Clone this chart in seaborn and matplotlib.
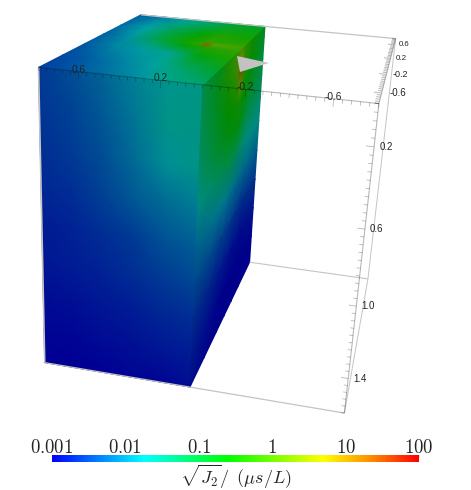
import numpy as np
import seaborn as sns
import matplotlib.pyplot as plt
from matplotlib.colors import LinearSegmentedColormap

sns.set_theme(style="white")
plt.rcParams['font.family'] = ['Liberation Sans', 'DejaVu Sans']
plt.rcParams['mathtext.fontset'] = 'cm'

# camera calibration: model point (x, y, z) -> where it lands in the picture
anchor_model = [(.8, -.8, 0), (-.8, -.8, 0), (-.8, .8, 0), (.8, .8, 0), (.8, -.8, 1.6), (-.8, -.8, 1.6),
                (-.8, .8, 1.6), (0, -.8, 0), (0, .8, 0), (0, -.8, 1.6), (0, .8, 1.6),
                (.6, -.8, 0), (-.6, -.8, 0), (-.8, -.8, .2), (-.8, -.8, 1.0)]
anchor_px = [(38, 67), (379, 104), (396, 38), (141, 15), (45, 363), (345, 413),
             (368, 279), (203, 85), (265, 27), (190, 387), (249, 262),
             (79, 71), (333, 99), (374, 147), (356, 306)]

# log10 sqrt(J2) on the three visible faces
front_x = [.8, .64, .48, .32, .16, 0]
front_z = [0, .2, .4, .6, .8, 1.0, 1.2, 1.4, 1.6]
front_vals = [[-2.5, -2.35, -2.15, -1.9, -1.7, -1.6],
              [-2.55, -2.45, -2.25, -2.0, -1.65, -1.6],
              [-2.6, -2.5, -2.35, -2.1, -1.8, -1.65],
              [-2.65, -2.6, -2.45, -2.25, -2.1, -1.95],
              [-2.75, -2.7, -2.6, -2.5, -2.3, -2.2],
              [-2.8, -2.75, -2.7, -2.6, -2.5, -2.4],
              [-2.9, -2.85, -2.8, -2.75, -2.65, -2.6],
              [-2.95, -2.95, -2.9, -2.85, -2.8, -2.75],
              [-3, -3, -3, -2.95, -2.95, -2.9]]

side_y = [-.8, -.5, -.2, 0, .1, .2, .4, .8]
side_z = [0, .06, .13, .2, .3, .45, .6, .8, 1.0, 1.2, 1.4, 1.6]
side_vals = [[-1.2, -.8, -.3, -.1, 0, -.2, -.5, -.9],
             [-1.25, -.85, -.3, 0, .6, -.2, -.5, -.95],
             [-1.25, -.85, -.4, -.1, 1.4, -.3, -.6, -1.05],
             [-1.3, -.9, -.5, -.25, .25, -.4, -.7, -1.15],
             [-1.35, -.95, -.6, -.5, -.4, -.55, -.9, -1.25],
             [-1.5, -1.1, -.8, -.7, -.7, -.9, -1.25, -1.45],
             [-1.7, -1.45, -1.2, -1.2, -1.25, -1.4, -1.65, -1.7],
             [-2.1, -1.95, -1.9, -1.95, -2, -2.05, -2.1, -2.15],
             [-2.35, -2.35, -2.4, -2.45, -2.5, -2.55, -2.6, -2.55],
             [-2.6, -2.65, -2.75, -2.8, -2.85, -2.85, -2.9, -2.8],
             [-2.75, -2.85, -2.95, -3, -3, -3, -3, -2.95],
             [-2.9, -2.95, -3, -3, -3, -3, -3, -3]]

top_x = [.8, .64, .48, .32, .24, .2, .16, 0]
top_y = [-.8, -.5, -.2, .02, .1, .18, .4, .8]
top_vals = [[-2.5, -2.35, -2.15, -1.9, -1.7, -1.65, -1.6, -1.35],
            [-2.45, -2.25, -2, -1.7, -1.5, -1.4, -1.3, -.9],
            [-2.35, -2, -1.8, -1.6, -1.2, -.9, -.7, -.4],
            [-2.25, -1.9, -1.35, -.7, -.5, -.4, -.3, -.2],
            [-2.25, -1.85, -1.1, -.5, -.2, 1.4, .1, -.1],
            [-2.25, -1.8, -1.1, -.5, -.35, -.2, -.25, -.3],
            [-2.15, -1.75, -1.2, -.7, -.5, -.4, -.4, -.5],
            [-2.25, -2, -1.7, -1.4, -1.2, -1.1, -1, -.9]]

# grey notch seen through the top face
notch_x = [-.017, -.203, -.106]
notch_y = [-.121, -.211, -.474]

# colour scale
bar_ticks = [-3, -2, -1, 0, 1, 2]
bar_labels = ['0.001', '0.01', '0.1', '1', '10', '100']
scale_pos = [0, .25, .48, .74, .87, 1]
scale_rgb = [(0, 0, 1), (0, 1, 1), (0, 1, 0), (1, 1, 0), (1, .55, 0), (1, 0, 0)]

x_major = [.6, .2, -.2, -.6]
y_major = [.6, .2, -.2, -.6]
z_major = [.2, .6, 1.0, 1.4]
y_label_sizes = [5.6, 5.8, 6.5, 7]
y_label_offsets = [10, 11, 14, 16]


def fit_camera(model, px):
    rows, rhs = [], []
    for (x, y, z), (u, v) in zip(model, px):
        rows.append([x, y, z, 1, 0, 0, 0, 0, -u * x, -u * y, -u * z])
        rows.append([0, 0, 0, 0, x, y, z, 1, -v * x, -v * y, -v * z])
        rhs += [u, v]
    p = np.linalg.lstsq(np.array(rows, float), np.array(rhs, float), rcond=None)[0]
    return np.append(p, 1).reshape(3, 4)


P = fit_camera(anchor_model, anchor_px)


def project(x, y, z):
    x, y, z = np.broadcast_arrays(np.asarray(x, float), np.asarray(y, float), np.asarray(z, float))
    pts = np.stack([x, y, z, np.ones_like(x)], axis=-1) @ P.T
    return pts[..., 0] / pts[..., 2], pts[..., 1] / pts[..., 2]


def shaded(level):
    rgb = [tuple(c * level for c in col) for col in scale_rgb]
    return LinearSegmentedColormap.from_list('s', list(zip(scale_pos, rgb)))


def edge(a, b, color='#c4c4c4', lw=1.0):
    u, v = project(*zip(a, b))
    ax.plot(u, v, color=color, lw=lw, solid_capstyle='butt')


fig = plt.figure(figsize=(4.71, 4.9), dpi=100)
ax = fig.add_axes([0, 0, 1, 1])
ax.set_xlim(0, 471)
ax.set_ylim(490, 0)
ax.axis('off')

edge((.8, .8, 0), (-.8, .8, 0), lw=.9)
edge((-.8, .8, 0), (-.8, .8, 1.6), lw=.7)
edge((-.8, .8, 1.6), (-.8, -.8, 1.6), lw=.7)
edge((0, .8, 1.6), (-.8, .8, 1.6), lw=.8)
edge((.8, -.8, 0), (.8, -.8, 1.6), lw=1.2)
edge((.8, -.8, 1.6), (-.8, -.8, 1.6), lw=.9)

# solid
xx, zz = np.meshgrid(front_x, front_z)
u, v = project(xx, -.8, zz)
ax.pcolormesh(u, v, np.array(front_vals), shading='gouraud', cmap=shaded(.58), vmin=-3, vmax=2)
yy, zz = np.meshgrid(side_y, side_z)
u, v = project(0, yy, zz)
ax.pcolormesh(u, v, np.array(side_vals), shading='gouraud', cmap=shaded(.54), vmin=-3, vmax=2)
xx, yy = np.meshgrid(top_x, top_y)
u, v = project(xx, yy, 0)
ax.pcolormesh(u, v, np.array(top_vals), shading='gouraud', cmap=shaded(.64), vmin=-3, vmax=2)

u, v = project(notch_x, notch_y, 0)
ax.fill(u, v, color='#c2c2c2', lw=0)

# axes with ticks
tick_col = (0, 0, 0, .28)
edge((.8, -.8, 0), (-.8, -.8, 0), color=tick_col, lw=.8)
edge((-.8, -.8, 0), (-.8, -.8, 1.6), color=tick_col, lw=.8)
edge((-.8, -.8, 0), (-.8, .8, 0), color=tick_col, lw=.8)
for i in range(41):
    t = -.8 + i * .04
    major = i % 10 == 5
    edge((t, -.8, 0), (t, -.8, .036 if major else .018), color=tick_col, lw=.6)
    edge((-.8, t, 0), (-.8 + (.036 if major else .02), t, 0), color=tick_col, lw=.7)
    d = .8 + t
    edge((-.8, -.8, d), (-.8 + (.036 if major else .018), -.8, d), color=tick_col, lw=.6)

for t in x_major:
    ax.annotate(f'{t:.1f}', project(t, -.8, 0), xytext=(0, 1.5), textcoords='offset points',
                ha='center', va='center', fontsize=7.3, color='#222222')
for t in z_major:
    ax.annotate(f'{t:.1f}', project(-.8, -.8, t), xytext=(8.5, 0), textcoords='offset points',
                ha='center', va='center', fontsize=7, color='#222222')
for t, size, off in zip(y_major, y_label_sizes, y_label_offsets):
    ax.annotate(f'{t:.1f}', project(-.8, t, 0), xytext=(off * .72, 0), textcoords='offset points',
                ha='center', va='center', fontsize=size, color='#222222')

# colour bar
cax = fig.add_axes([52 / 471, 1 - 462 / 490, 367 / 471, 7 / 490])
levels = np.linspace(bar_ticks[0], bar_ticks[-1], 256)[None, :]
sns.heatmap(levels, ax=cax, cmap=shaded(1), vmin=-3, vmax=2, cbar=False, xticklabels=False, yticklabels=False)
cax.xaxis.tick_top()
cax.set_xticks([256 * (t + 3) / 5 for t in bar_ticks])
cax.set_xticklabels([f'${s}$' for s in bar_labels], fontsize=13.5)
cax.tick_params(axis='x', length=1, width=.5, color='#aaaaaa', pad=-1.5, direction='in')
fig.text(235.5 / 471, 1 - 476.5 / 490, r'$\sqrt{J_2}/\,\ (\mu s/L)$', ha='center', va='center', fontsize=13)

fig.savefig('out.png', dpi=100)
